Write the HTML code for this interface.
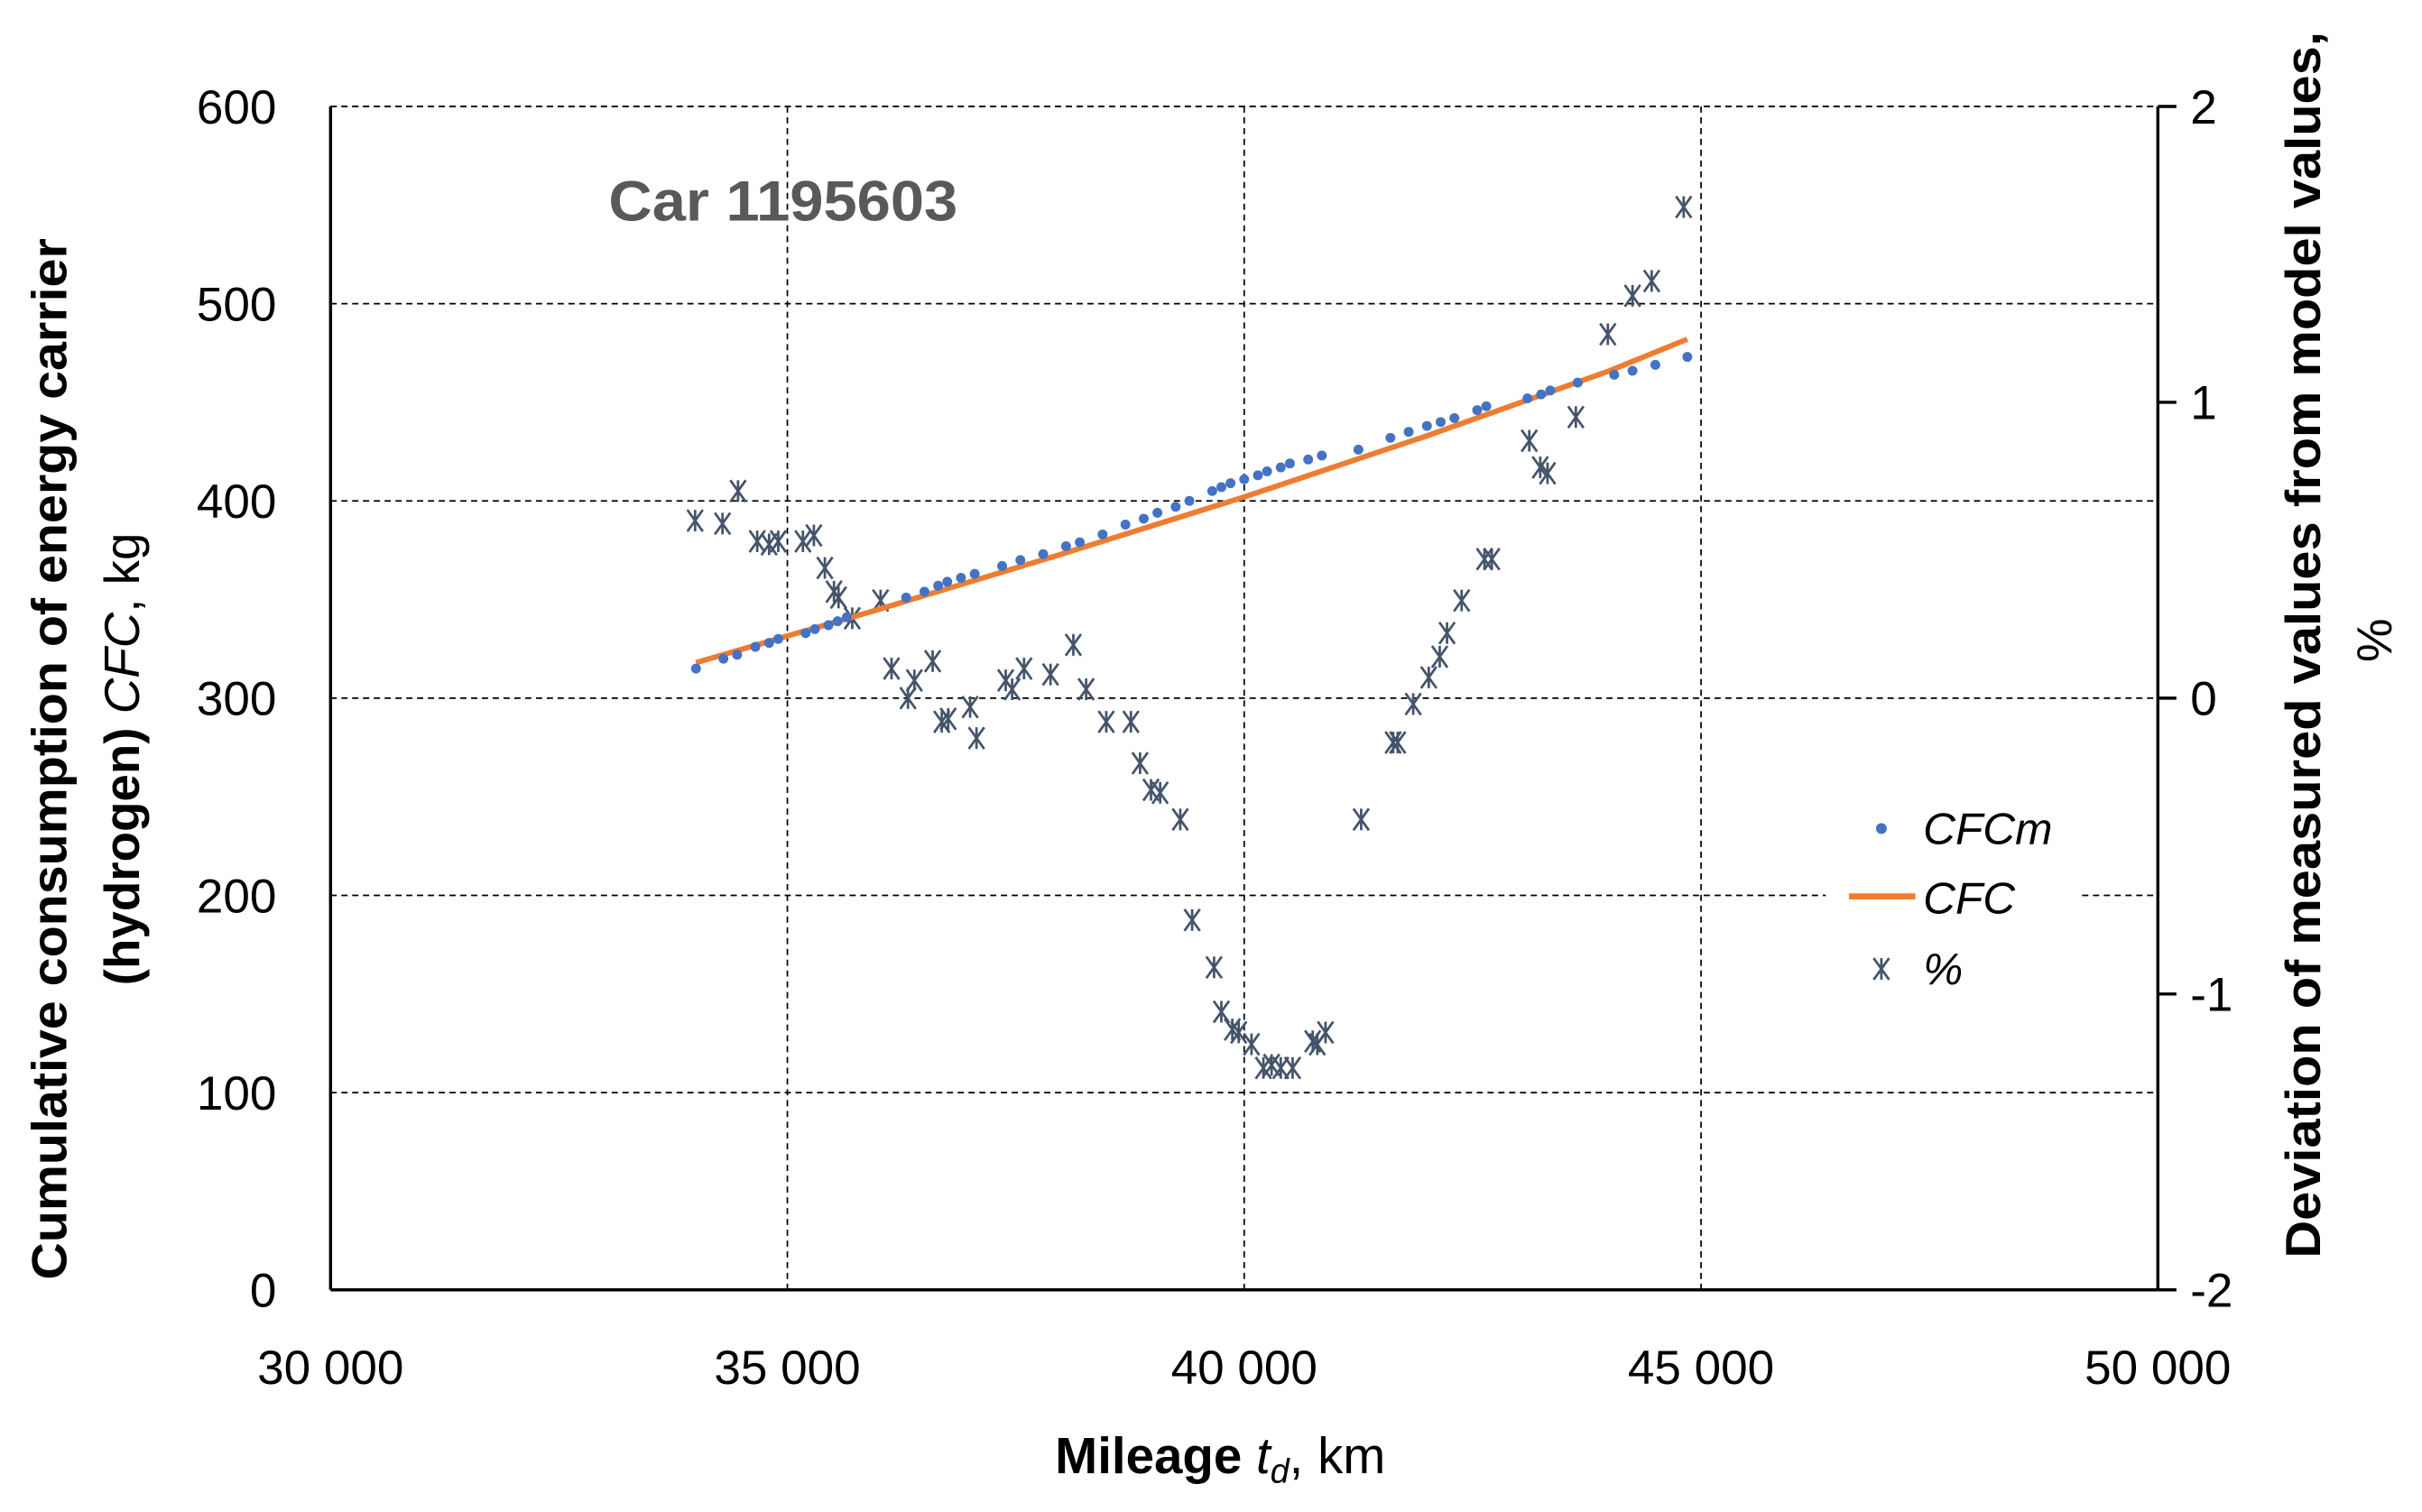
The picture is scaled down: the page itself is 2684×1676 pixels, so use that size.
<!DOCTYPE html>
<html><head><meta charset="utf-8"><style>
html,body{margin:0;padding:0;background:#fff;}
svg{display:block;font-family:"Liberation Sans",sans-serif;}
</style></head><body>
<svg id="chart" width="2684" height="1676" viewBox="0 0 1568 980" preserveAspectRatio="none" xmlns="http://www.w3.org/2000/svg">
<rect width="1568" height="980" fill="#fff"/>
<g id="grid"></g>
<g id="axes"></g>
<g id="series"></g>
<text x="394" y="143" font-size="37" font-weight="bold" fill="#595959" textLength="226" lengthAdjust="spacingAndGlyphs">Car 1195603</text>
<text x="790" y="955" font-size="33" font-weight="bold" text-anchor="middle">Mileage <tspan font-style="italic" font-weight="normal">t</tspan><tspan font-style="italic" font-weight="normal" font-size="22" dy="6">d</tspan><tspan dy="-6" font-weight="normal">, km</tspan></text>
<text transform="translate(43,492) rotate(-90)" font-size="32" font-weight="bold" text-anchor="middle" textLength="675" lengthAdjust="spacingAndGlyphs">Cumulative consumption of energy carrier</text>
<text transform="translate(90,492) rotate(-90)" font-size="32" font-weight="bold" text-anchor="middle">(hydrogen) <tspan font-style="italic" font-weight="normal">CFC</tspan><tspan font-weight="normal">, kg</tspan></text>
<text transform="translate(1502,418) rotate(-90)" font-size="32" font-weight="bold" text-anchor="middle" textLength="795" lengthAdjust="spacingAndGlyphs">Deviation of measured values from model values,</text>
<text transform="translate(1548,415) rotate(-90)" font-size="32" font-weight="normal" text-anchor="middle">%</text>
<g id="legend">
<rect x="1182" y="510" width="165" height="140" fill="#fff"/>
<circle cx="1218" cy="537" r="3.5" fill="#4472C4"/>
<text x="1245" y="547" font-size="29" font-style="italic">CFCm</text>
<line x1="1197" y1="581" x2="1240" y2="581" stroke="#ED7D31" stroke-width="4"/>
<text x="1245" y="592" font-size="29" font-style="italic">CFC</text>
<g transform="translate(1218,628)" stroke="#44546A" stroke-width="1.6"><line x1="-5" y1="-7" x2="5" y2="7"/><line x1="-5" y1="7" x2="5" y2="-7"/><line x1="0" y1="-7" x2="0" y2="7"/></g>
<text x="1245" y="638" font-size="29" font-style="italic">%</text>
</g>
</svg>
<script>
const xTicks=[30000,35000,40000,45000,50000];
const xTickLabels=["30 000","35 000","40 000","45 000","50 000"];
const yTicks=[0,100,200,300,400,500,600];
const y2Ticks=[-2,-1,0,1,2];
const cfcmX=[34000,34300,34450,34650,34800,34900,35200,35300,35450,35550,35650,36300,36500,36650,36750,36900,37050,37350,37550,37800,38050,38200,38450,38700,38900,39050,39250,39400,39650,39750,39850,40000,40150,40250,40400,40500,40700,40850,41250,41600,41800,42000,42150,42300,42550,42650,43100,43250,43350,43650,44050,44250,44500,44850];
const cfcmY=[315,320,322,326,328,330,333,335,337,339,341,351,354,357,359,361,363,367,370,373,377,379,383,388,391,394,397,400,405,407,409,411,413,415,417,419,421,423,426,432,435,438,440,442,446,448,452,454,456,460,464,466,469,473];
const cfcX=[34000,36000,38000,40000,42000,44000,44850];
const cfcY=[318,345,373,402,433,466,482];
const pctX=[33990,34290,34460,34670,34800,34900,35170,35290,35410,35510,35560,35710,36020,36140,36320,36390,36590,36690,36760,37000,37070,37390,37460,37590,37880,38130,38270,38490,38760,38860,38980,39080,39300,39430,39670,39750,39870,39940,40080,40210,40300,40400,40530,40750,40800,40890,41280,41630,41680,41850,42020,42140,42220,42380,42630,42710,43120,43240,43320,43630,43980,44250,44460,44810];
const pctY=[0.60,0.59,0.70,0.53,0.52,0.53,0.53,0.55,0.44,0.36,0.34,0.27,0.33,0.10,0.0,0.06,0.125,-0.08,-0.07,-0.03,-0.135,0.06,0.03,0.10,0.08,0.18,0.03,-0.08,-0.08,-0.22,-0.31,-0.32,-0.41,-0.75,-0.91,-1.06,-1.12,-1.13,-1.17,-1.25,-1.24,-1.25,-1.25,-1.16,-1.17,-1.13,-0.41,-0.15,-0.15,-0.02,0.07,0.14,0.22,0.33,0.47,0.47,0.87,0.78,0.76,0.95,1.23,1.36,1.41,1.66];

const L=214,R=1397,T=69,B=836;
const sx=v=>L+(v-30000)/20000*(R-L);
const sy=v=>B-v/600*(B-T);
const sy2=v=>B-(v+2)/4*(B-T);
const NS="http://www.w3.org/2000/svg";
function mk(tag,attrs,parent){const e=document.createElementNS(NS,tag);for(const k in attrs)e.setAttribute(k,attrs[k]);parent.appendChild(e);return e;}
const grid=document.getElementById('grid'),axes=document.getElementById('axes'),series=document.getElementById('series');
yTicks.forEach((t,i)=>{
  if(t>0){const g=mk('line',{x1:L,x2:R,y1:sy(t),y2:sy(t),stroke:'#000','stroke-width':1,'stroke-dasharray':'4,3'},grid);
  
  }
  const tx=mk('text',{x:179,y:sy(t)+11,'font-size':31,'text-anchor':'end'},axes);tx.textContent=t;
  
  
});
xTicks.forEach((t,i)=>{
  if(i>0&&i<xTicks.length-1){const g=mk('line',{x1:sx(t),x2:sx(t),y1:T,y2:B,stroke:'#000','stroke-width':1,'stroke-dasharray':'4,3'},grid);
  
  }
  const tx=mk('text',{x:sx(t),y:897,'font-size':31,'text-anchor':'middle'},axes);tx.textContent=xTickLabels[i];
  
  
});
y2Ticks.forEach(t=>{
  const tk=mk('line',{x1:R,x2:R+12,y1:sy2(t),y2:sy2(t),stroke:'#000','stroke-width':2},axes);
  
  
  const tx=mk('text',{x:1418,y:sy2(t)+11,'font-size':31},axes);tx.textContent=t;
  
  
});
const topl=mk('line',{x1:L,x2:R,y1:T,y2:T,stroke:'#000','stroke-width':1,'stroke-dasharray':'4,3'},grid);


const ax1=mk('line',{x1:L,x2:R,y1:B,y2:B,stroke:'#000','stroke-width':2},axes);


const ax2=mk('line',{x1:L,x2:L,y1:T,y2:B,stroke:'#000','stroke-width':2},axes);


const ax3=mk('line',{x1:R,x2:R,y1:T,y2:B,stroke:'#000','stroke-width':2},axes);


document.getElementById('chart').appendChild(document.getElementById('legend'));
pctX.forEach((x,i)=>{
  const g=mk('g',{transform:`translate(${sx(x)},${sy2(pctY[i])})`,stroke:'#44546A','stroke-width':1.6},series);
  
  
  mk('line',{x1:-5,y1:-7,x2:5,y2:7},g);mk('line',{x1:-5,y1:7,x2:5,y2:-7},g);mk('line',{x1:0,y1:-7,x2:0,y2:7},g);
});
const pl=mk('polyline',{points:cfcX.map((x,i)=>sx(x)+','+sy(cfcY[i])).join(' '),fill:'none',stroke:'#ED7D31','stroke-width':3.5},series);


cfcmX.forEach((x,i)=>{
  const c=mk('circle',{cx:sx(x),cy:sy(cfcmY[i]),r:3.2,fill:'#4472C4'},series);
  
  
});
</script>
</body></html>
